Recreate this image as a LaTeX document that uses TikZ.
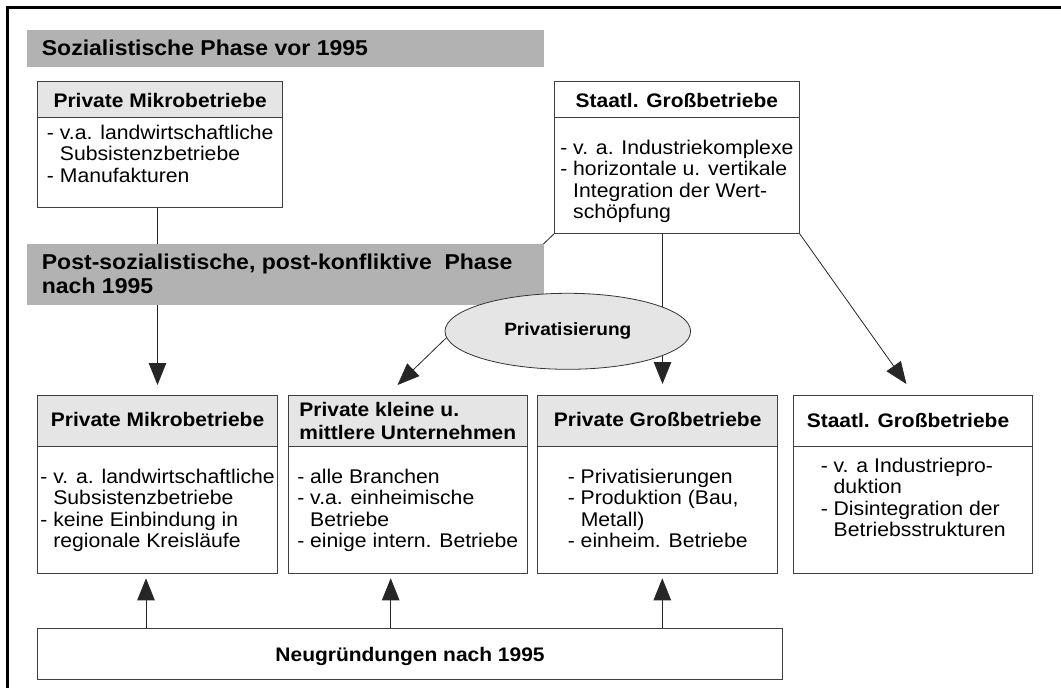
\documentclass[tikz,border=0pt]{standalone}
\usepackage{fontspec}
\setmainfont[FakeStretch=1.07]{Liberation Sans}
\usetikzlibrary{arrows.meta,shapes.geometric}
\pgfdeclarelayer{back}
\pgfdeclarelayer{bg}
\pgfsetlayers{back,bg,main}
\newcommand\ind{\hphantom{-\ }}
\newcommand\lns[1]{\begin{tabular}[t]{@{}l@{}}#1\end{tabular}}
\begin{document}
\begin{tikzpicture}[x=1pt,y=-1pt,
  boxs/.style={draw=black!75, line width=1.1pt, inner sep=0pt, fill=white, anchor=north west},
  hdrs/.style={draw=black!75, line width=1.1pt, inner sep=0pt, anchor=north west},
  bandbox/.style={fill=black!30, draw=none, inner sep=0pt, anchor=north west},
  conn/.style={draw=black!85, line width=0.8pt},
  arr/.style={conn, -{Triangle[width=17.5pt,length=22pt]}},
  bandfont/.style={font=\fontsize{21.5}{24}\selectfont\bfseries, inner sep=0pt},
  hfont/.style={font=\fontsize{19.6}{23}\selectfont\bfseries, inner sep=0pt, anchor=base},
  bfont/.style={font=\fontsize{19.8}{21.5}\selectfont, inner sep=0pt, anchor=base},
  pfont/.style={font=\fontsize{17.8}{20}\selectfont\bfseries}
]
\useasboundingbox (0,0) rectangle (1061,688);
\begin{pgfonlayer}{back}
\fill[white] (0,0) rectangle (1061,688);
\end{pgfonlayer}
\draw[line width=2.2pt] (1061,7.5) -- (7.5,7.5) -- (7.5,688);

% bands
\node[bandbox, minimum width=516.6pt, minimum height=36.7pt] (ph1) at (26.7,30) {};
\node[bandfont, anchor=base west] (ph1t) at (41.7,55) {Sozialistische Phase vor 1995};

% top left box
\node[boxs, minimum width=244.7pt, minimum height=126.3pt] (pm1) at (37.3,80.7) {};
\node[hdrs, fill=black!10, minimum width=244.7pt, minimum height=36pt] (pm1h) at (pm1.north west) {};
\node[hfont] (pm1t) at (pm1h.center |- 0,107.3) {Private Mikrobetriebe};
\node[bfont] (pm1b) at (pm1.center |- 0,139) {\lns{- v.a. landwirtschaftliche\\\ind Subsistenzbetriebe\\- Manufakturen}};

% top right box
\node[boxs, minimum width=244.6pt, minimum height=152pt] (sg1) at (554,80.7) {};
\node[hdrs, minimum width=244.6pt, minimum height=36pt] (sg1h) at (sg1.north west) {};
\node[hfont] (sg1t) at (sg1h.center |- 0,107.3) {Staatl. Großbetriebe};
\node[bfont] (sg1b) at (sg1.center |- 0,154) {\lns{- v. a. Industriekomplexe\\- horizontale u. vertikale\\\ind Integration der Wert-\\\ind schöpfung}};

% band 2
\node[bandbox, minimum width=516.6pt, minimum height=61.7pt] (ph2) at (26.7,243.3) {};
\node[bandfont, anchor=base west] (ph2t) at (41.7,269.5) {\lns{Post-sozialistische, post-konfliktive\ \ Phase\\nach 1995}};

% ellipse
\node[ellipse, draw=black!80, fill=black!10, line width=0.8pt, minimum width=245.6pt, minimum height=76pt, inner sep=0pt, pfont] (pr) at (567.8,331.3) {Privatisierung};

% bottom boxes
\node[boxs, minimum width=239.4pt, minimum height=177.7pt] (pmA) at (37.3,395) {};
\node[hdrs, fill=black!10, minimum width=239.4pt, minimum height=50.7pt] (pmAh) at (pmA.north west) {};
\node[hfont] (pmAt) at (pmAh.center |- 0,426.7) {Private Mikrobetriebe};
\node[bfont] (pmAb) at (pmA.center |- 0,483) {\lns{- v. a. landwirtschaftliche\\\ind Subsistenzbetriebe\\- keine Einbindung in\\\ind regionale Kreisläufe}};

\node[boxs, minimum width=239.5pt, minimum height=177.7pt] (kmB) at (287.5,395) {};
\node[hdrs, fill=black!10, minimum width=239.5pt, minimum height=50.7pt] (kmBh) at (kmB.north west) {};
\node[hfont] (kmBt) at (kmBh.center |- 0,416) {\lns{Private kleine u.\\mittlere Unternehmen}};
\node[bfont] (kmBb) at (kmB.center |- 0,483) {\lns{- alle Branchen\\- v.a. einheimische\\\ind Betriebe\\- einige intern. Betriebe}};

\node[boxs, minimum width=239.7pt, minimum height=177.7pt] (pgC) at (537.3,395) {};
\node[hdrs, fill=black!10, minimum width=239.7pt, minimum height=50.7pt] (pgCh) at (pgC.north west) {};
\node[hfont] (pgCt) at (pgCh.center |- 0,426.7) {Private Großbetriebe};
\node[bfont] (pgCb) at (pgC.center |- 0,483) {\lns{- Privatisierungen\\- Produktion (Bau,\\\ind Metall)\\- einheim. Betriebe}};

\node[boxs, minimum width=238.7pt, minimum height=177.7pt] (sgD) at (793.3,395) {};
\node[hdrs, minimum width=238.7pt, minimum height=50.7pt] (sgDh) at (sgD.north west) {};
\node[hfont] (sgDt) at (908,427.3) {Staatl. Großbetriebe};
\node[bfont] (sgDb) at (sgD.center |- 0,472) {\lns{- v. a Industriepro-\\\ind duktion\\- Disintegration der\\\ind Betriebsstrukturen}};

% Neugruendungen
\node[boxs, minimum width=744.4pt, minimum height=51pt] (neu) at (37.3,628.3) {};
\node[hfont] (neut) at (neu.center |- 0,661.5) {Neugründungen nach 1995};

% connectors
\coordinate (tA) at (157.5,385);
\coordinate (tB) at (397.5,385);
\coordinate (tC) at (662.5,384);
\coordinate (tD) at (906.4,384);
\coordinate (uA) at (146,578.3);
\coordinate (uB) at (390.7,578.3);
\coordinate (uC) at (662.3,578.3);
\begin{pgfonlayer}{bg}
\draw[arr] (pm1.south -| tA) -- (tA);
\draw[arr] (sg1.south west) -- (tB);
\draw[arr] (sg1.south -| tC) -- (tC);
\draw[arr] (sg1.south east) -- (tD);
\draw[arr] (neu.north -| uA) -- (uA);
\draw[arr] (neu.north -| uB) -- (uB);
\draw[arr] (neu.north -| uC) -- (uC);
\end{pgfonlayer}
\end{tikzpicture}
\end{document}
